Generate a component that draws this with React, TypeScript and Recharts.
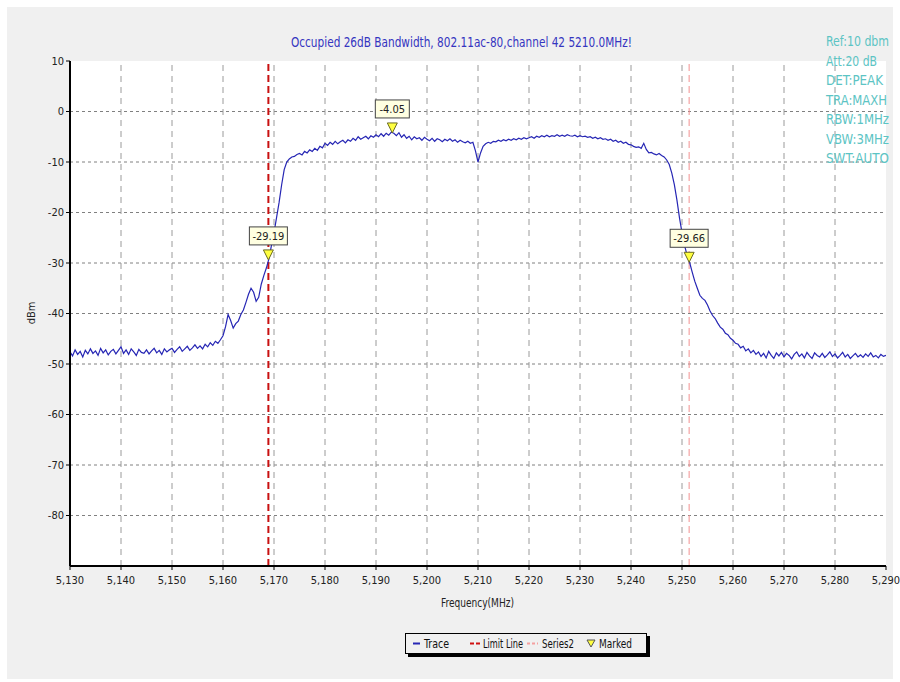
import React from 'react';
import { ComposedChart, Line, Scatter, XAxis, YAxis, ReferenceLine } from 'recharts';

const FREQ_START = 5130;
const FREQ_STEP = 0.5;
const TRACE_DB = [
  -47.6, -48.4, -47.2, -48.1, -47.5, -48.6, -47.3, -48.0, -47.0, -47.9, // 5130
  -47.4, -48.3, -46.9, -47.8, -47.2, -48.2, -47.5, -47.1, -48.0, -47.3, // 5135
  -46.6, -47.9, -47.2, -48.1, -47.0, -47.6, -48.3, -47.1, -47.7, -47.9, // 5140
  -47.2, -48.0, -47.4, -46.9, -47.8, -47.3, -48.1, -47.0, -47.6, -47.2, // 5145
  -46.9, -47.7, -47.1, -46.6, -47.5, -47.0, -46.5, -47.3, -46.8, -46.2, // 5150
  -46.9, -46.4, -47.0, -46.1, -46.6, -45.8, -46.3, -45.5, -45.9, -45.2, // 5155
  -44.4, -42.6, -40.2, -41.4, -42.9, -42.0, -41.5, -40.2, -39.3, -37.8, // 5160
  -36.2, -35.0, -35.8, -37.6, -36.8, -34.2, -32.5, -31.0, -29.2, -26.5, // 5165
  -24.0, -21.0, -18.0, -14.5, -11.5, -10.0, -9.4, -9.0, -8.9, -8.5, // 5170
  -8.3, -8.6, -7.9, -8.2, -7.6, -7.9, -7.3, -7.7, -6.9, -7.2, // 5175
  -6.3, -6.7, -6.1, -6.5, -5.9, -6.4, -6.0, -5.7, -6.2, -5.6, // 5180
  -5.9, -5.3, -5.7, -5.0, -5.5, -5.2, -4.9, -5.4, -4.8, -5.1, // 5185
  -4.6, -5.0, -4.4, -4.9, -4.3, -4.7, -4.1, -4.3, -4.8, -4.2, // 5190
  -5.1, -4.6, -5.3, -4.9, -5.6, -5.0, -5.4, -5.2, -5.7, -5.1, // 5195
  -5.5, -5.8, -5.3, -5.9, -5.4, -5.6, -6.0, -5.5, -5.8, -5.4, // 5200
  -5.9, -5.6, -6.1, -5.7, -6.0, -6.2, -5.9, -6.3, -6.1, -7.8, // 5205
  -10.0, -8.2, -6.9, -6.4, -6.1, -6.3, -5.9, -6.0, -5.7, -5.9, // 5210
  -5.6, -5.8, -5.5, -5.7, -5.4, -5.6, -5.3, -5.5, -5.2, -5.4, // 5215
  -5.2, -5.0, -5.3, -4.9, -5.1, -4.8, -5.0, -4.7, -5.0, -4.8, // 5220
  -4.9, -4.6, -4.9, -4.7, -4.9, -4.6, -4.8, -4.9, -4.7, -5.0, // 5225
  -4.8, -5.0, -4.9, -5.1, -5.0, -5.3, -5.1, -5.4, -5.2, -5.5, // 5230
  -5.4, -5.7, -5.5, -5.9, -5.7, -6.1, -5.9, -6.3, -6.1, -6.5, // 5235
  -6.6, -6.9, -7.1, -7.0, -7.3, -6.3, -7.5, -8.2, -8.1, -8.4, // 5240
  -8.6, -8.3, -8.7, -9.0, -9.6, -10.5, -12.2, -14.5, -17.5, -21.0, // 5245
  -24.0, -26.5, -28.5, -29.9, -31.8, -33.6, -35.0, -36.4, -37.0, -37.4, // 5250
  -38.3, -39.5, -40.4, -41.0, -41.9, -42.7, -43.1, -43.9, -44.2, -44.9, // 5255
  -45.3, -45.9, -46.1, -46.8, -46.5, -47.4, -47.0, -47.8, -47.3, -48.1, // 5260
  -47.6, -48.5, -47.9, -48.8, -47.5, -48.3, -48.9, -47.8, -48.4, -47.7, // 5265
  -48.6, -47.9, -48.3, -49.0, -48.1, -47.6, -48.5, -48.0, -48.8, -47.7, // 5270
  -48.4, -48.9, -47.8, -48.3, -48.6, -47.9, -48.7, -48.2, -47.6, -48.5, // 5275
  -48.0, -48.8, -48.3, -47.7, -48.6, -48.1, -48.9, -48.4, -47.9, -48.6, // 5280
  -48.2, -48.7, -48.0, -48.5, -47.8, -48.6, -48.3, -48.8, -48.1, -48.5, // 5285
  -48.3, // 5290
];

const MARKERS = [
  { freq: 5168.9, db: -29.19, label: '-29.19' },
  { freq: 5193.2, db: -4.05, label: '-4.05' },
  { freq: 5251.4, db: -29.66, label: '-29.66' },
];

const LIMIT_FREQ = 5168.9;
const SERIES2_FREQ = 5251.4;

const X_TICKS = [5130, 5140, 5150, 5160, 5170, 5180, 5190, 5200, 5210, 5220, 5230, 5240, 5250, 5260, 5270, 5280, 5290];
const Y_TICKS = [10, 0, -10, -20, -30, -40, -50, -60, -70, -80];
const Y_GRID = [0, -10, -20, -30, -40, -50, -60, -70, -80];
const X_GRID = [5140, 5150, 5160, 5170, 5180, 5190, 5200, 5210, 5220, 5230, 5240, 5250, 5260, 5270, 5280];

const TITLE = 'Occupied 26dB Bandwidth, 802.11ac-80,channel 42  5210.0MHz!';
const INFO = ['Ref:10 dbm', 'Att:20 dB', 'DET:PEAK', 'TRA:MAXH', 'RBW:1MHz', 'VBW:3MHz', 'SWT:AUTO'];
const INFO_WIDTHS = [63, 51, 57, 61, 63, 63, 63];

const NARROW = "'Liberation Sans Narrow', 'Arial Narrow', 'DejaVu Sans Condensed', sans-serif";
const TRACE_COLOR = '#2626b4';

const traceData = TRACE_DB.map((db, i) => ({ freq: FREQ_START + i * FREQ_STEP, db }));

function MarkerShape(props: any) {
  const { cx, cy, payload } = props;
  const w = payload.label.length > 5 ? 38 : 34;
  return (
    <g>
      <rect x={cx - w / 2} y={cy - 32} width={w} height={18} fill="#ffffe1" stroke="#444" strokeWidth={1} />
      <text x={cx} y={cy - 19} textAnchor="middle" fontSize={11} fontFamily={NARROW} fill="#222">
        {payload.label}
      </text>
      <polygon points={`${cx - 5},${cy - 9} ${cx + 5},${cy - 9} ${cx},${cy + 1}`} fill="#ffff40" stroke="#6b6b20" strokeWidth={1} />
    </g>
  );
}

function Legend() {
  return (
    <div
      style={{
        position: 'absolute',
        left: 405,
        top: 633,
        width: 240,
        height: 19,
        border: '1px solid #000',
        boxShadow: '3px 3px 0 #000',
        background: '#f0f0f0',
      }}
    >
      <svg width={240} height={19} style={{ position: 'absolute', left: 0, top: 0 }} fontFamily={NARROW} fontSize={12} fill="#111">
        <line x1={7} x2={14} y1={9.5} y2={9.5} stroke={TRACE_COLOR} strokeWidth={2} />
        <text x={18} y={14} textLength={25} lengthAdjust="spacingAndGlyphs">Trace</text>
        <line x1={64} x2={75} y1={9.5} y2={9.5} stroke="#d01010" strokeWidth={2} strokeDasharray="4 2" />
        <text x={77} y={14} textLength={40} lengthAdjust="spacingAndGlyphs">Limit Line</text>
        <line x1={121} x2={132} y1={9.5} y2={9.5} stroke="#f4a0a0" strokeWidth={2} strokeDasharray="3 2" />
        <text x={136} y={14} textLength={32} lengthAdjust="spacingAndGlyphs">Series2</text>
        <polygon points="181,6 189,6 185,13" fill="#ffff40" stroke="#555" strokeWidth={1} />
        <text x={193} y={14} textLength={33} lengthAdjust="spacingAndGlyphs">Marked</text>
      </svg>
    </div>
  );
}

export default function App() {
  return (
    <div style={{ position: 'relative', width: 900, height: 682, background: '#fff', overflow: 'hidden' }}>
      <style>{'body{margin:0}'}</style>
      <div style={{ position: 'absolute', left: 7, top: 7, width: 886, height: 672, background: '#f0f0f0' }} />
      <div style={{ position: 'absolute', left: 70, top: 61, width: 816, height: 505, background: '#fff' }} />
      <div style={{ position: 'absolute', left: 0, top: 0 }}>
        <ComposedChart width={900} height={682} margin={{ top: 61, right: 14, bottom: 86, left: 30 }}>
          {Y_GRID.map((v) => (
            <ReferenceLine key={`h${v}`} y={v} stroke="#808080" strokeDasharray="3 3" />
          ))}
          {X_GRID.map((v) => (
            <ReferenceLine key={`v${v}`} x={v} stroke="#9a9a9a" strokeDasharray="6 5" />
          ))}
          <XAxis
            dataKey="freq"
            type="number"
            domain={[5130, 5290]}
            ticks={X_TICKS}
            allowDataOverflow
            height={30}
            tickFormatter={(v: number) => v.toLocaleString('en-US')}
            tick={{ fontSize: 11, fill: '#222', fontFamily: NARROW }}
            axisLine={{ stroke: '#000', strokeWidth: 2 }}
            tickLine={{ stroke: '#000' }}
            tickSize={4}
            tickMargin={6}
          />
          <YAxis
            type="number"
            domain={[-90, 10]}
            ticks={Y_TICKS}
            allowDataOverflow
            width={40}
            tick={{ fontSize: 11, fill: '#222', fontFamily: NARROW }}
            axisLine={{ stroke: '#000', strokeWidth: 2 }}
            tickLine={{ stroke: '#000' }}
            tickSize={4}
          />
          <ReferenceLine x={LIMIT_FREQ} stroke="#c81010" strokeWidth={2} strokeDasharray="7 4" />
          <ReferenceLine x={SERIES2_FREQ} stroke="#f29090" strokeWidth={1} strokeDasharray="7 4" />
          <Line
            data={traceData}
            dataKey="db"
            stroke={TRACE_COLOR}
            strokeWidth={1.2}
            dot={false}
            isAnimationActive={false}
          />
          <Scatter data={MARKERS} dataKey="db" shape={MarkerShape} isAnimationActive={false} />
        </ComposedChart>
      </div>
      <svg width={900} height={682} style={{ position: 'absolute', left: 0, top: 0, pointerEvents: 'none' }}>
        <text x={291} y={47} fontSize={14} fontFamily={NARROW} fill="#3535c0" textLength={341} lengthAdjust="spacingAndGlyphs">
          {TITLE}
        </text>
        {INFO.map((t, i) => (
          <text
            key={t}
            x={826}
            y={46 + i * 19.5}
            fontSize={14}
            fontFamily={NARROW}
            fill="#5cc4c4"
            textLength={INFO_WIDTHS[i]}
            lengthAdjust="spacingAndGlyphs"
          >
            {t}
          </text>
        ))}
        <text x={441} y={607} fontSize={12} fontFamily={NARROW} fill="#222" textLength={73} lengthAdjust="spacingAndGlyphs">
          Frequency(MHz)
        </text>
        <text
          x={35}
          y={313}
          textAnchor="middle"
          fontSize={11}
          fontFamily={NARROW}
          fill="#222"
          transform="rotate(-90 35 313)"
        >
          dBm
        </text>
      </svg>
      <Legend />
    </div>
  );
}
